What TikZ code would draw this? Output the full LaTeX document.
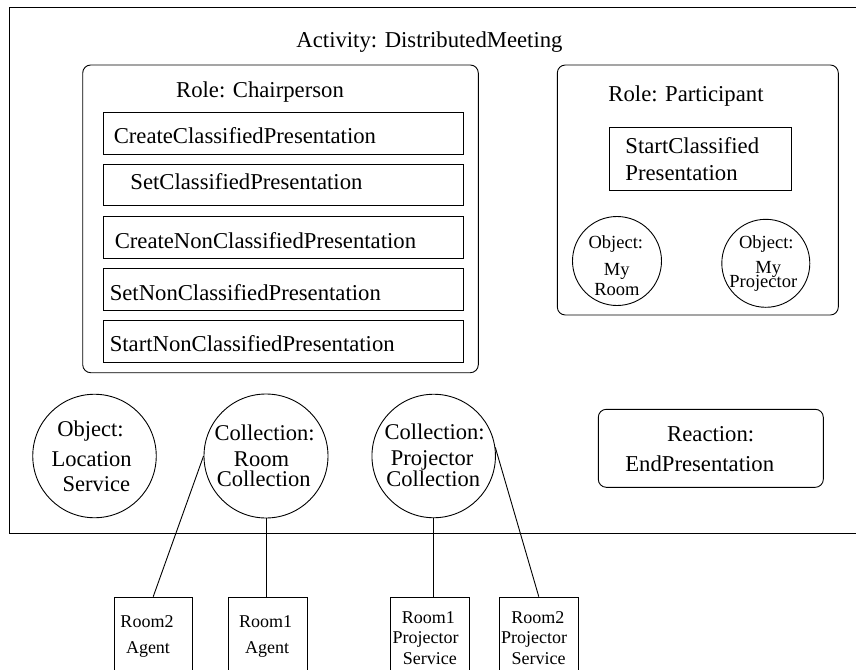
\documentclass[tikz,border=0pt]{standalone}
\usepackage{fontspec}
\setmainfont{Liberation Serif}
\begin{document}
\begin{tikzpicture}[x=1pt, y=-1pt, line width=0.9pt,
  big/.style={inner sep=0pt, anchor=base, font=\fontsize{22.7}{27}\selectfont},
  bigw/.style={big, anchor=base west},
  mid/.style={inner sep=0pt, anchor=base, font=\fontsize{22.5}{27}\selectfont},
  small/.style={inner sep=0pt, anchor=base, font=\fontsize{18.5}{22}\selectfont},
  tiny/.style={inner sep=0pt, anchor=base, font=\fontsize{18}{22}\selectfont},
  rolebox/.style={draw, rounded corners=8pt, inner sep=0pt},
  opbox/.style={draw, inner sep=0pt, minimum width=360pt, minimum height=41.5pt},
  obj/.style={draw, circle, inner sep=0pt, minimum size=123.5pt},
  sobj/.style={draw, circle, inner sep=0pt, minimum size=89pt},
  svcbox/.style={draw, inner sep=0pt, minimum width=78.5pt, minimum height=120pt, anchor=north},
  link/.style={draw}]
\useasboundingbox (0,0) rectangle (856,669);
\clip (0,0) rectangle (856,669);

% activity frame
\node[draw, inner sep=0pt, anchor=north west, minimum width=900pt, minimum height=526pt] (activity) at (9,7) {};
\node[big] (activity-t) at (429.5,48) {Activity: DistributedMeeting};

% role: chairperson
\node[rolebox, minimum width=395.6pt, minimum height=307.7pt] (chair) at (280.5,218.85) {};
\node[big] (chair-t) at (260,97.3) {Role: Chairperson};
\node[opbox] (b1) at (283.3,133.2) {};
\node[opbox] (b2) at (283.3,185) {};
\node[opbox] (b3) at (283.3,237.5) {};
\node[opbox] (b4) at (283.3,289.3) {};
\node[opbox] (b5) at (283.3,341.5) {};
\node[bigw] (b1-t) at (113.3,143.3) {CreateClassifiedPresentation};
\node[bigw] (b2-t) at (130,189.3) {SetClassifiedPresentation};
\node[bigw] (b3-t) at (114.3,248.3) {CreateNonClassifiedPresentation};
\node[bigw] (b4-t) at (109.3,300) {SetNonClassifiedPresentation};
\node[bigw] (b5-t) at (109.3,351.7) {StartNonClassifiedPresentation};

% role: participant
\node[rolebox, minimum width=281pt, minimum height=250pt] (part) at (697.8,190) {};
\node[big] (part-t) at (686,101.7) {Role: Participant};
\node[draw, inner sep=0pt, minimum width=182.7pt, minimum height=62.3pt] (scp) at (700.35,158.85) {};
\node[bigw] (scp-t1) at (625,153.3) {StartClassified};
\node[bigw] (scp-t2) at (625,180) {Presentation};
\node[sobj] (mr) at (617,261) {};
\node[small] (mr-t1) at (615.8,248.3) {Object:};
\node[small] (mr-t2) at (616.7,275) {My};
\node[small] (mr-t3) at (617,295) {Room};
\node[sobj, minimum size=88pt] (mp) at (765.8,263.3) {};
\node[small] (mp-t1) at (766.3,248.3) {Object:};
\node[small] (mp-t2) at (768.3,273.3) {My};
\node[small] (mp-t3) at (763.3,287.7) {Projector};

% objects and collections
\node[obj] (lc) at (94.5,456) {};
\node[mid] (lc-t1) at (90.5,436) {Object:};
\node[mid] (lc-t2) at (91.7,466.7) {Location};
\node[mid] (lc-t3) at (96.3,491.7) {Service};
\node[obj, minimum size=124pt] (rc) at (266,456) {};
\node[mid] (rc-t1) at (264.5,440) {Collection:};
\node[mid] (rc-t2) at (261.5,466.7) {Room};
\node[mid] (rc-t3) at (263.7,486.7) {Collection};
\node[obj] (pc) at (433.7,456) {};
\node[mid] (pc-t1) at (434.5,439.3) {Collection:};
\node[mid] (pc-t2) at (432,465.7) {Projector};
\node[mid] (pc-t3) at (433.3,486) {Collection};

% reaction
\node[rolebox, minimum width=225pt, minimum height=78pt] (react) at (710.8,448.3) {};
\node[big] (react-t1) at (710.7,441.7) {Reaction:};
\node[big] (react-t2) at (699.7,471.7) {EndPresentation};

% members outside the activity
\node[svcbox] (a2) at (153.2,596.7) {};
\node[tiny] (a2-t1) at (147,627.3) {Room2};
\node[tiny] (a2-t2) at (148,653.3) {Agent};
\node[svcbox] (a1) at (268,596.7) {};
\node[tiny] (a1-t1) at (265.5,627.3) {Room1};
\node[tiny] (a1-t2) at (267.2,653.3) {Agent};
\node[svcbox] (p1) at (429.8,596.7) {};
\node[tiny] (p1-t1) at (428.3,623.3) {Room1};
\node[tiny] (p1-t2) at (425.5,643.3) {Projector};
\node[tiny] (p1-t3) at (429.8,664) {Service};
\node[svcbox] (p2) at (538.8,596.7) {};
\node[tiny] (p2-t1) at (537.8,623.3) {Room2};
\node[tiny] (p2-t2) at (534.2,643.3) {Projector};
\node[tiny] (p2-t3) at (538.7,664) {Service};

% membership links
\path[link] (rc.west) -- (a2.north);
\path[link] (rc.south) -- (rc.south |- a1.north);
\path[link] (pc.south) -- (pc.south |- p1.north);
\path[link] (pc.8) -- (p2.north);
\end{tikzpicture}
\end{document}
